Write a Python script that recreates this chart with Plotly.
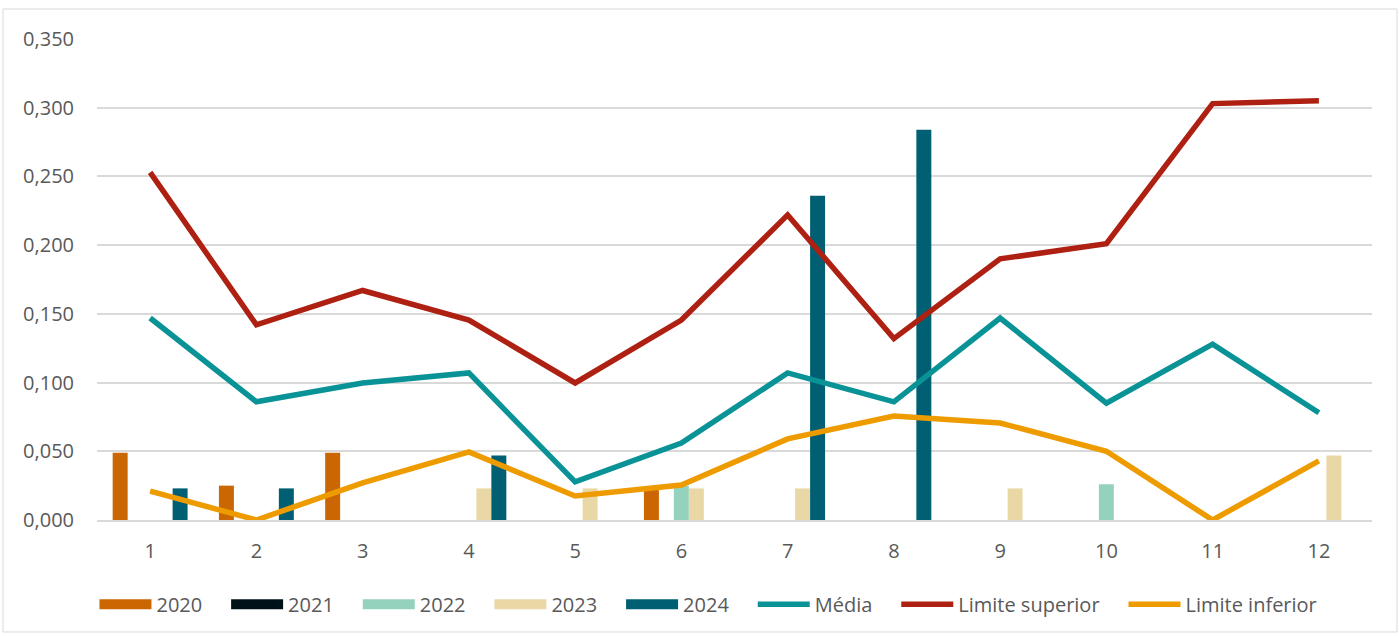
import plotly.graph_objects as go

months = [str(i) for i in range(1, 13)]
y2020 = [0.049, 0.025, 0.049, None, None, 0.023, None, None, None, None, None, None]
y2021 = [None] * 12
y2022 = [None, None, None, None, None, 0.025, None, None, None, 0.026, None, None]
y2023 = [None, None, None, 0.023, 0.023, 0.023, 0.023, None, 0.023, None, None, 0.047]
y2024 = [0.023, 0.023, None, 0.047, None, None, 0.236, 0.284, None, None, None, None]
media = [0.147, 0.086, 0.0997, 0.107, 0.0277, 0.056, 0.107, 0.086, 0.147, 0.085, 0.128, 0.078]
lim_sup = [0.253, 0.142, 0.167, 0.1455, 0.0997, 0.1455, 0.222, 0.132, 0.190, 0.201, 0.303, 0.305]
lim_inf = [0.021, 0.0, 0.027, 0.0495, 0.0175, 0.0255, 0.059, 0.0757, 0.0706, 0.050, 0.0, 0.043]

bar_series = [
    ("2020", y2020, "#CA6702"),
    ("2021", y2021, "#001219"),
    ("2022", y2022, "#94D2BD"),
    ("2023", y2023, "#E9D8A6"),
    ("2024", y2024, "#005F73"),
]
line_series = [
    ("Média", media, "#0A9396"),
    ("Limite superior", lim_sup, "#AE2012"),
    ("Limite inferior", lim_inf, "#EE9B00"),
]

PAD = "\u00a0\u00a0\u00a0\u2009"  # extra spacing between legend entries

fig = go.Figure()
for name, vals, col in bar_series:
    fig.add_trace(go.Bar(x=months, y=vals, name=name, legendgroup=name, showlegend=False,
                         marker=dict(color=col, line=dict(width=0))))
# legend entries for the bar series drawn as wide rectangular swatches
for name, vals, col in bar_series:
    fig.add_trace(go.Scatter(x=[None], y=[None], name=name + PAD, legendgroup=name, mode="lines",
                             line=dict(color=col, width=13), hoverinfo="skip"))
for name, vals, col in line_series:
    fig.add_trace(go.Scatter(x=months, y=vals, name=name + PAD, mode="lines",
                             line=dict(color=col, width=5.5)))

fig.update_layout(
    width=1400, height=636,
    margin=dict(l=97, r=28, t=39, b=116),
    paper_bgcolor="white", plot_bgcolor="white",
    separators=",.",
    barmode="group", bargap=0.295, bargroupgap=0,
    font=dict(family="Open Sans", size=20, color="#595959"),
    showlegend=True,
    legend=dict(orientation="h", x=-0.002, xanchor="left", y=-0.175, yanchor="middle",
                font=dict(size=20, color="#595959"), itemwidth=52, traceorder="normal"),
    xaxis=dict(type="category", showgrid=False, showline=True, linecolor="#D9D9D9", linewidth=1.5,
               ticks="", ticklabelstandoff=12, tickfont=dict(size=20, color="#595959")),
    yaxis=dict(range=[0, 0.35], dtick=0.05, tickformat=".3f", showgrid=True, gridcolor="#D9D9D9",
               gridwidth=1.5, zeroline=False, showline=False, ticks="", ticklabelstandoff=22,
               tickfont=dict(size=20, color="#595959")),
    shapes=[dict(type="rect", xref="paper", yref="paper", x0=-0.0737, x1=1.0196, y0=-0.2328, y1=1.0624,
                 line=dict(color="#D9D9D9", width=1), fillcolor="rgba(0,0,0,0)", layer="below")],
)

fig.write_html("out.html", config={"displayModeBar": False},
               post_script="document.body.style.margin='0';")
